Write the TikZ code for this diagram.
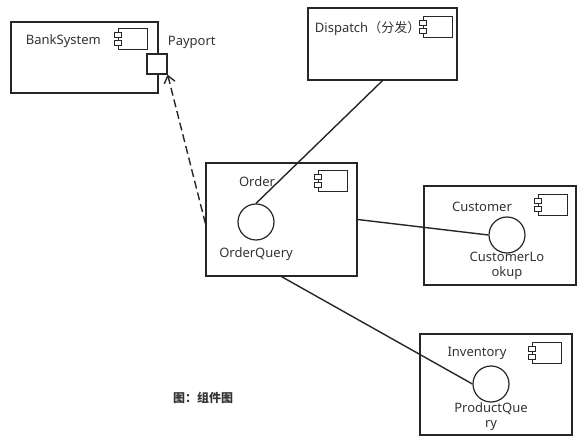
\documentclass[tikz,border=0pt]{standalone}
\usepackage{fontspec}
\setmainfont{Noto Sans}
\newfontfamily\cjk{Noto Sans CJK SC}
\usetikzlibrary{arrows.meta}

\tikzset{
  compicon/.pic={
    \draw[line width=1pt] (0,0) rectangle (29,21);
    \draw[line width=1pt,fill=white] (-4,4) rectangle (3,9);
    \draw[line width=1pt,fill=white] (-4,12) rectangle (3,17);
  }
}

\begin{document}
\begin{tikzpicture}[x=1pt,y=-1pt,line width=1.2pt,draw=black!85,
    every node/.style={font=\fontsize{13}{15}\selectfont,text=black!80},
    comp/.style={draw,rectangle,inner sep=0pt},
    iface/.style={draw,circle,inner sep=0pt,minimum size=36pt},
    link/.style={draw=black!85,line width=1.4pt}]
  \useasboundingbox (0,0) rectangle (587,446);
  % components
  \node[comp,minimum width=147pt,minimum height=71pt] (bank) at (84.5,57.5) {};
  \node[comp,minimum width=149pt,minimum height=72pt] (dispatch) at (382.5,44) {};
  \node[comp,minimum width=151pt,minimum height=113pt] (order) at (281.5,219.5) {};
  \node[comp,minimum width=152pt,minimum height=99pt] (customer) at (500,235.5) {};
  \node[comp,minimum width=152pt,minimum height=101pt] (inventory) at (496,384.5) {};
  \node[comp,fill=white,minimum size=20pt] (port) at (157,64) {};
  % icons
  \pic at (118,29) {compicon};
  \pic at (423,17) {compicon};
  \pic at (318,171) {compicon};
  \pic at (538,195) {compicon};
  \pic at (532,343) {compicon};
  % interfaces
  \node[iface] (oq) at (256,222) {};
  \node[iface] (cq) at (507,235) {};
  \node[iface] (pq) at (491,384) {};
  % labels
  \node[anchor=west] at (22,41) {BankSystem};
  \node[anchor=west] at (164,42) {Payport};
  \node[anchor=west] at (311,28) {Dispatch{\cjk（分发）}};
  \node at (257,182) {Order};
  \node at (256,254) {OrderQuery};
  \node at (482,207) {Customer};
  \node[align=center] at (507,266) {CustomerLo\\okup};
  \node at (477,353) {Inventory};
  \node[align=center] at (491,417) {ProductQue\\ry};
  \node[font=\cjk\bfseries\fontsize{12}{14}\selectfont] at (203,398) {图：组件图};
  % connectors
  \draw[link] (dispatch.south) -- (oq.north);
  \draw[link] (order.east) -- (cq.west);
  \draw[link] (order.south) -- (pq.west);
  \draw[link,dash pattern=on 8pt off 4pt,-{Straight Barb[length=7pt,width=11pt]}]
    ([yshift=-4pt]order.west) -- (port.south east);
\end{tikzpicture}
\end{document}
